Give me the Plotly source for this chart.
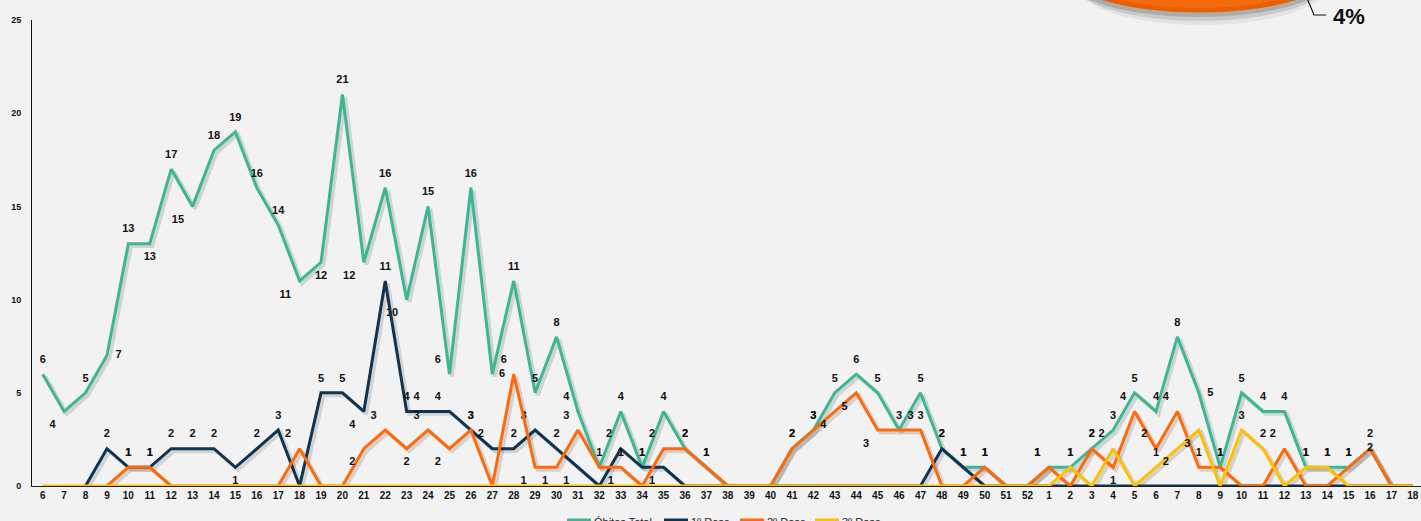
import plotly.graph_objects as go

# ---------------- data ----------------
week_labels = [str(w) for w in range(6, 53)] + [str(w) for w in range(1, 19)]

obitos_total = [6, 4, 5, 7, 13, 13, 17, 15, 18, 19, 16, 14, 11, 12, 21, 12, 16, 10, 15, 6,
                16, 6, 11, 5, 8, 4, 1, 4, 1, 4, 2, 1, 0, 0, 0, 2, 3, 5, 6, 5, 3, 5, 2, 1, 1, 0, 0,
                1, 1, 2, 3, 5, 4, 8, 5, 1, 5, 4, 4, 1, 1, 1, 2, 0, 0]
dose1 = [None, None, 0, 2, 1, 1, 2, 2, 2, 1, 2, 3, 0, 5, 5, 4, 11, 4, 4, 4,
         3, 2, 2, 3, 2, 1, 0, 2, 1, 1, 0, 0, 0, 0, 0, 0, 0, 0, 0, 0, 0, 0, 2, 1, 0, 0, 0,
         0, 0, 0, 0, 0, 0, 0, 0, 0, 0, 0, 0, 0, 0, 0, 0, 0, 0]
dose2 = [None, None, None, 0, 1, 1, 0, 0, 0, 0, 0, 0, 2, 0, 0, 2, 3, 2, 3, 2,
         3, 0, 6, 1, 1, 3, 1, 1, 0, 2, 2, 1, 0, 0, 0, 2, 3, 4, 5, 3, 3, 3, 0, 0, 1, 0, 0,
         1, 0, 2, 1, 4, 2, 4, 1, 1, 0, 0, 2, 0, 0, 1, 2, 0, 0]
dose3 = [0] * 47 + [0, 1, 0, 2, 0, 1, 2, 3, 0, 3, 2, 0, 1, 1, 0, 0, 0, 0]

series_names = ["Óbitos Total", "1º Dose", "2º Dose", "3º Dose"]
y_ticks = [0, 5, 10, 15, 20, 25]
pie_label = "4%"

# ---------------- style ----------------
colors = ["#3BB893", "#0E3451", "#FF6A08", "#FFC000"]
BG = "#F2F2F2"
FONT = "Liberation Sans, Arial"
n = len(week_labels)
xs = list(range(n))

# label placement overrides (index -> position)
pos_total = {1: "bottom left", 3: "middle right", 5: "bottom center", 7: "bottom left",
             12: "bottom left", 13: "bottom center", 15: "bottom left", 17: "bottom left",
             19: "top left", 21: "top right", 25: "top left", 47: "top left",
             54: "middle right"}
pos_d1 = {9: "bottom center", 15: "bottom left", 18: "top left", 19: "top left",
          21: "top left", 23: "top left", 25: "bottom left", 27: "top left",
          29: "bottom left"}
pos_d2 = {12: "top left", 15: "bottom left", 16: "top left", 17: "bottom center",
          18: "top left", 19: "bottom left", 22: "middle left", 23: "bottom left",
          24: "bottom left", 25: "top left", 26: "bottom right", 29: "top left",
          37: "bottom left", 38: "bottom left", 39: "bottom left", 40: "top right",
          47: "top left", 50: "bottom center", 51: "top left", 52: "top left",
          53: "top left", 58: "top left", 62: "middle center"}
pos_d3 = {50: "top left", 53: "bottom left", 54: "bottom left"}


def positions(vals, overrides):
    return [overrides.get(i, "top center") for i in range(len(vals))]


def labels(vals):
    return ["" if (v is None or v == 0) else str(v) for v in vals]


fig = go.Figure()
all_series = [obitos_total, dose1, dose2, dose3]
all_pos = [pos_total, pos_d1, pos_d2, pos_d3]

# soft drop shadows under the lines
for vals in all_series:
    fig.add_trace(go.Scatter(
        x=[x + 0.12 for x in xs], y=[None if v is None else v - 0.13 for v in vals],
        mode="lines", line=dict(color="rgba(0,0,0,0.13)", width=4),
        hoverinfo="skip", showlegend=False))

for name, vals, col, pos in zip(series_names, all_series, colors, all_pos):
    fig.add_trace(go.Scatter(
        x=xs, y=vals, name=name, mode="lines+markers+text",
        line=dict(color=col, width=3),
        marker=dict(size=12, color="rgba(0,0,0,0)"),
        text=labels(vals), textposition=positions(vals, pos),
        textfont=dict(family=FONT, size=11, color="#111111", weight="bold"),
        cliponaxis=False, showlegend=False))

L, R, T, B = 32, 0, 20, 35
W, H = 1421, 521
pw, ph = W - L - R, H - T - B


def px(x):
    return (x - L) / pw


def py(y):
    return (H - B - y) / ph


# partial 3D pie slice peeking in at top right, with its shadow
shapes = [
    dict(type="circle", xref="paper", yref="paper", layer="above",
         x0=px(1076), x1=px(1328), y0=py(25), y1=py(-56),
         fillcolor="rgba(0,0,0,0.06)", line=dict(width=0)),
    dict(type="circle", xref="paper", yref="paper", layer="above",
         x0=px(1072), x1=px(1328), y0=py(21), y1=py(-58),
         fillcolor="rgba(0,0,0,0.11)", line=dict(width=0)),
    dict(type="circle", xref="paper", yref="paper", layer="above",
         x0=px(1068), x1=px(1330), y0=py(17), y1=py(-60),
         fillcolor="rgba(0,0,0,0.15)", line=dict(width=0)),
    dict(type="circle", xref="paper", yref="paper", layer="above",
         x0=px(1068), x1=px(1330), y0=py(12.5), y1=py(-64),
         fillcolor="#E85F00", line=dict(width=0)),
    dict(type="circle", xref="paper", yref="paper", layer="above",
         x0=px(1072), x1=px(1326), y0=py(8), y1=py(-66),
         fillcolor="#F36B0C", line=dict(width=0)),
    dict(type="path", xref="paper", yref="paper", layer="above",
         path=f"M {px(1307)},{py(-2)} L {px(1314)},{py(15)} L {px(1326)},{py(15)}",
         line=dict(color="#111111", width=1.2)),
]

annotations = [dict(text=f"<b>{pie_label}</b>", xref="paper", yref="paper",
                    x=px(1331), y=py(17), xanchor="left", yanchor="middle",
                    showarrow=False, font=dict(size=22, color="#111111", family=FONT))]

# legend drawn manually at the bottom (cut off by the page edge as in the source)
legend_line_x = [567, 664, 740, 815]
for name, col, lx in zip(series_names, colors, legend_line_x):
    shapes.append(dict(type="line", xref="paper", yref="paper", layer="above",
                       x0=px(lx), x1=px(lx + 24), y0=py(520), y1=py(520),
                       line=dict(color=col, width=3)))
    annotations.append(dict(text=name, xref="paper", yref="paper",
                            x=px(lx + 25), y=py(522), xanchor="left", yanchor="middle",
                            showarrow=False,
                            font=dict(size=11, color="#222222", family=FONT)))

fig.update_layout(
    width=W, height=H,
    paper_bgcolor=BG, plot_bgcolor=BG,
    margin=dict(l=L, r=R, t=T, b=B, autoexpand=False),
    font=dict(family=FONT, size=10, color="#111111"),
    showlegend=False,
    xaxis=dict(tickmode="array", tickvals=xs, ticktext=week_labels,
               range=[-0.5, n - 0.62], showgrid=False, zeroline=False,
               showline=True, linecolor="#222222", linewidth=1, automargin=False,
               ticks="", tickfont=dict(size=10, family=FONT, color="#111111", weight="bold"),
               fixedrange=True),
    yaxis=dict(range=[0, 25], tickvals=y_ticks, showgrid=False, zeroline=False,
               showline=True, linecolor="#111111", linewidth=1, ticks="", automargin=False,
               tickfont=dict(size=9, family=FONT, color="#111111", weight="bold"),
               ticklabelstandoff=8, fixedrange=True),
    shapes=shapes,
    annotations=annotations,
)

fig.write_html(
    "out.html",
    config={"displayModeBar": False},
    post_script="document.body.style.margin='0';document.body.style.background='#F2F2F2';"
                "document.body.style.overflow='hidden';",
)
